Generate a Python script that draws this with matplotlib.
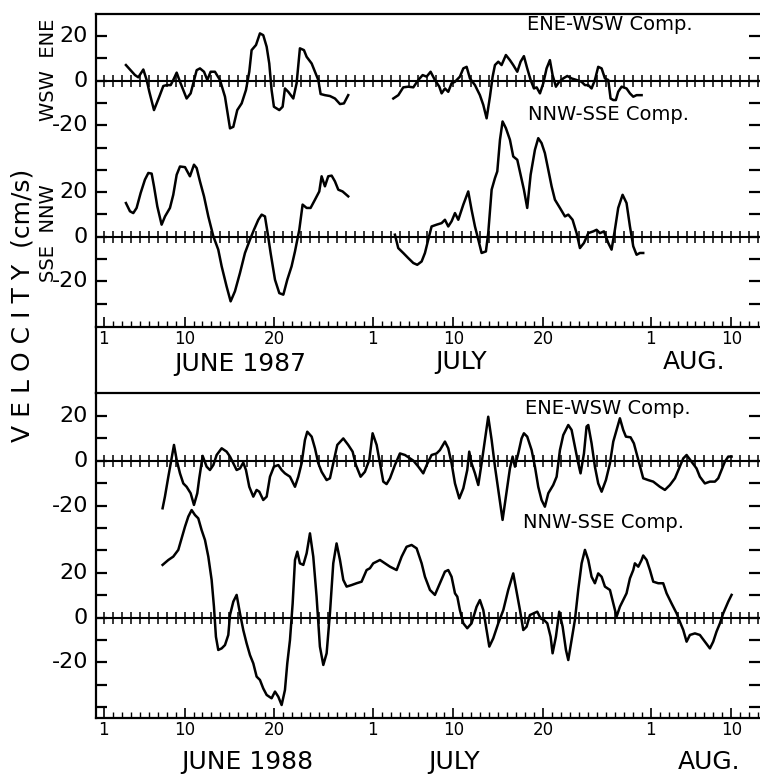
import numpy as np
import matplotlib
matplotlib.use("Agg")
import matplotlib.pyplot as plt
from matplotlib.lines import Line2D

# day number counted from 1 June (1 July = 31, 1 Aug = 62), velocity in cm/s
# ---- 1987 ----
ene87_day_a = [3.46,4.47,4.84,5.40,5.77,6.07,6.59,7.18,7.63,8.00,8.45,8.74,9.12,9.49,10.23,10.68,11.35,11.72,12.17,12.54,
               12.91,13.39,13.95,14.51,15.07,15.44,15.88,16.37,16.85,17.22,17.48,17.97,18.41,18.78,19.16,19.45,19.71,19.97,20.57,20.94,
               21.20,21.57,22.13,22.50,22.87,23.32,23.62,24.18,24.55,24.92,25.18,25.66,26.22,26.78,27.34,27.78,28.26]
ene87_val_a = [7.0,2.5,1.5,5.0,0.3,-5.0,-13.2,-7.2,-2.4,-2.0,-2.0,0.3,3.6,-0.5,-8.0,-5.7,4.7,5.5,4.0,0.3,
               4.0,4.0,0.3,-7.2,-21.4,-20.7,-13.2,-10.2,-4.2,4.0,13.7,16.0,21.2,20.4,15.2,7.7,-4.2,-11.7,-13.2,-11.7,
               -3.5,-5.0,-8.0,-1.2,14.5,13.7,10.7,7.7,4.0,0.3,-6.0,-6.5,-6.9,-8.0,-10.5,-10.2,-6.5]
ene87_day_b = [33.29,33.85,34.40,34.96,35.52,36.08,36.56,37.01,37.45,37.93,38.42,38.68,39.05,39.42,39.79,40.17,40.72,41.10,41.47,41.84,
               42.40,42.95,43.33,43.70,44.07,44.37,44.63,45.00,45.37,45.85,46.30,46.67,47.12,47.49,47.86,48.23,48.61,48.98,49.28,49.65,
               50.02,50.39,50.76,51.06,51.43,51.80,52.25,52.70,53.18,53.74,54.29,54.67,55.04,55.41,55.78,56.15,56.53,56.90,57.27,57.53,
               57.83,58.12,58.38,58.76,59.31,59.69,60.06,60.43,60.99]
ene87_val_b = [-8.0,-6.5,-3.0,-2.7,-3.0,0.3,2.5,1.8,4.0,0.3,-2.7,-5.7,-3.5,-5.0,-1.2,-0.5,1.8,5.5,6.2,1.0,
               -2.0,-6.5,-10.9,-16.9,-7.2,1.8,7.0,8.5,7.0,11.5,9.2,7.0,4.0,8.5,11.0,5.5,0.3,-3.5,-3.0,-5.7,
               -1.2,5.5,9.2,2.5,-2.7,-0.5,1.0,2.1,1.0,0.3,-0.5,-2.0,-2.0,-3.5,0.3,6.2,5.5,1.0,0.3,-8.0,
               -8.7,-8.7,-5.0,-2.7,-3.5,-5.7,-7.2,-6.5,-6.5]
nnw87_day_a = [3.46,3.91,4.28,4.65,5.10,5.58,5.96,6.33,6.59,6.96,7.44,7.82,8.37,8.74,9.12,9.49,10.05,10.60,11.05,11.35,
               11.72,12.17,12.65,13.21,13.76,14.14,14.69,15.14,15.62,16.18,16.74,17.30,17.74,18.23,18.60,18.97,19.27,19.60,20.09,20.57,
               21.02,21.46,21.94,22.32,22.80,23.17,23.62,24.06,24.55,25.03,25.29,25.66,26.03,26.41,26.78,27.15,27.63,28.26]
nnw87_val_a = [15.1,11.4,10.6,12.9,19.6,25.6,28.6,28.3,22.6,13.6,5.4,9.1,12.9,18.8,27.8,31.5,31.2,27.1,32.3,30.8,
               24.8,18.1,9.1,0.2,-5.8,-13.3,-22.3,-29.0,-24.5,-16.3,-7.3,-1.3,3.1,7.6,9.9,9.1,1.6,-7.3,-19.3,-25.3,
               -26.0,-19.3,-13.3,-6.6,3.1,14.4,12.9,12.9,16.6,20.3,27.1,22.6,27.1,27.4,24.8,21.1,20.3,18.1]
nnw87_day_b = [33.47,33.84,34.40,34.96,35.52,35.96,36.45,36.82,37.19,37.56,38.12,38.68,39.05,39.42,39.79,40.17,40.54,41.10,41.65,42.02,
               42.40,42.77,43.14,43.62,43.88,44.26,44.63,44.89,45.19,45.48,45.85,46.30,46.67,47.12,47.49,47.86,48.23,48.61,49.09,49.46,
               49.83,50.20,50.58,50.95,51.32,51.88,52.44,52.81,53.29,53.74,54.11,54.56,55.04,55.60,55.97,56.34,56.79,57.27,57.64,58.01,
               58.38,58.87,59.31,59.69,60.06,60.43,60.80,61.17]
nnw87_val_b = [0.9,-5.1,-7.3,-9.6,-11.8,-12.6,-11.1,-7.3,-1.3,4.6,5.4,6.1,7.6,4.6,6.9,10.6,7.6,14.4,20.3,12.1,
               4.6,-1.3,-7.3,-6.6,1.6,21.1,26.3,29.3,43.5,51.7,48.7,43.5,36.0,34.5,27.8,21.1,12.9,27.8,39.0,44.2,
               42.0,37.5,30.0,22.6,16.6,12.9,9.1,9.9,7.6,1.6,-5.1,-2.8,1.6,2.4,3.1,1.6,2.4,-2.8,-5.8,3.1,
               12.9,18.8,15.1,4.6,-4.3,-8.1,-7.3,-7.3]

# ---- 1988 ----
ene88_day = [7.55,7.81,8.19,8.56,8.82,9.12,9.49,9.86,10.23,10.68,11.05,11.42,11.64,12.02,12.46,12.83,13.21,13.58,14.14,14.69,
             15.07,15.44,15.81,16.18,16.55,16.85,17.22,17.67,18.04,18.34,18.78,19.16,19.53,19.97,20.46,20.83,21.20,21.76,22.32,22.69,
             23.06,23.43,23.69,24.18,24.55,24.92,25.29,25.85,26.22,26.59,27.04,27.71,28.26,28.75,29.12,29.64,30.12,30.61,30.98,31.43,
             31.80,32.17,32.54,32.92,33.47,34.03,34.59,35.15,35.52,36.08,36.63,37.01,37.56,38.12,38.49,39.05,39.42,39.79,40.17,40.65,
             41.10,41.54,41.76,42.02,42.40,42.77,43.14,43.51,43.88,44.26,44.63,45.11,45.48,45.85,46.30,46.60,46.86,47.23,47.60,47.86,
             48.23,48.72,49.09,49.46,49.83,50.20,50.58,51.13,51.51,51.88,52.25,52.81,53.18,53.55,53.92,54.18,54.56,54.85,55.04,55.41,
             55.78,56.15,56.53,57.01,57.46,57.83,58.20,58.57,58.94,59.24,59.76,60.13,60.62,61.17,61.73,62.29,63.03,63.59,64.15,64.71,
             65.26,65.64,66.01,66.57,67.12,67.49,68.05,68.61,69.17,69.54,69.91,70.28,70.66,71.03]
ene88_val = [-21.2,-16.0,-7.1,1.1,7.1,0.4,-5.6,-10.1,-11.6,-14.5,-19.7,-14.5,-7.8,2.2,-2.6,-4.1,-1.9,2.6,5.6,4.1,
             1.9,-1.1,-4.1,-3.4,-0.8,-4.1,-11.6,-16.0,-13.0,-13.8,-17.5,-16.0,-7.1,-2.6,-1.9,-4.1,-5.6,-7.1,-11.6,-7.1,
             -1.1,9.3,13.0,10.8,5.6,-1.1,-4.9,-8.6,-7.8,-1.1,7.1,10.0,7.1,4.1,-1.9,-7.1,-4.9,0.4,12.3,7.1,
             -1.1,-9.3,-10.4,-7.8,-1.9,3.3,2.6,1.1,0.1,-2.6,-5.6,-1.9,2.6,3.3,4.8,8.6,5.6,-1.1,-10.1,-16.8,
             -12.3,-4.1,4.1,-1.1,-5.6,-10.8,-1.1,9.3,19.7,9.3,-2.6,-16.0,-26.4,-16.0,-3.4,1.9,-2.6,3.3,10.0,12.3,
             10.8,4.8,-2.6,-11.6,-17.5,-20.5,-14.5,-10.8,-7.1,4.8,11.5,16.0,13.8,6.3,-1.1,-5.6,3.3,15.3,16.0,7.8,
             -2.6,-10.1,-13.8,-8.6,-1.1,8.6,13.8,19.0,13.8,10.8,10.5,7.8,0.4,-7.8,-8.6,-9.3,-11.6,-13.0,-10.8,-7.8,
             -2.6,1.1,2.6,-0.4,-3.4,-7.1,-10.1,-9.3,-9.3,-7.8,-4.1,-0.4,1.9,1.9]
nnw88_day = [7.55,8.19,8.74,9.30,9.67,10.05,10.42,10.79,11.16,11.53,11.90,12.28,12.65,13.02,13.28,13.50,13.76,14.14,14.51,14.88,
             15.07,15.44,15.81,16.18,16.55,16.92,17.30,17.67,18.04,18.41,18.78,19.16,19.71,20.09,20.46,20.83,21.20,21.46,21.76,22.06,
             22.32,22.58,22.87,23.25,23.62,23.99,24.36,24.73,25.10,25.48,25.85,26.22,26.59,26.96,27.34,27.71,28.08,28.64,29.19,29.75,
             30.31,30.68,31.05,
             31.80,32.36,32.92,33.66,34.22,34.77,35.33,35.89,36.45,36.82,37.38,37.93,38.49,39.05,39.42,39.79,40.17,40.43,40.72,41.10,
             41.54,42.02,42.58,42.95,43.33,43.70,44.00,44.44,45.00,45.56,46.11,46.67,47.04,47.42,47.79,48.16,48.53,48.98,49.35,49.72,
             50.09,50.47,50.84,51.06,51.43,51.80,52.18,52.55,52.81,53.18,53.55,53.92,54.30,54.67,55.04,55.41,55.78,56.15,56.53,56.90,
             57.46,57.83,58.20,58.57,58.94,59.31,59.69,60.06,60.24,60.62,60.99,61.17,61.55,61.92,62.29,62.85,63.40,63.78,64.33,64.89,
             65.26,65.64,66.01,66.38,66.94,67.49,68.05,68.61,68.98,69.35,69.73,70.10,70.66,71.03]
nnw88_val = [23.5,25.7,27.2,30.2,35.4,40.6,45.1,48.0,45.8,44.3,39.1,34.6,27.2,16.8,4.8,-8.6,-14.5,-13.8,-12.3,-7.8,
             1.1,7.1,10.1,1.9,-5.6,-11.5,-16.8,-20.5,-26.4,-27.9,-31.7,-34.6,-36.1,-33.1,-35.4,-39.1,-32.4,-20.5,-10.1,6.3,
             25.7,29.4,24.2,23.5,28.7,37.6,27.2,9.3,-13.0,-21.2,-16.0,1.9,24.2,33.1,25.7,16.8,13.8,14.5,15.3,16.0,
             21.2,22.0,24.2,
             25.7,24.2,22.7,21.2,27.2,31.6,32.4,30.9,24.2,18.2,12.3,10.1,15.3,20.5,21.2,18.2,10.8,9.3,3.3,-2.6,
             -4.8,-2.6,4.8,7.8,3.3,-5.6,-13.0,-9.3,-2.6,3.3,12.3,19.7,11.5,3.3,-5.6,-4.1,1.1,1.9,2.6,-0.4,
             -1.1,-2.6,-8.6,-16.0,-8.6,2.6,-4.1,-14.5,-19.0,-10.1,-1.1,12.3,24.2,30.2,25.7,18.2,15.3,19.7,18.2,13.8,
             12.3,6.3,0.4,4.8,7.8,10.8,17.5,21.2,24.2,22.7,25.7,27.7,25.7,21.2,16.0,15.3,15.3,10.8,6.3,1.9,
             -1.9,-5.6,-10.8,-7.8,-7.1,-7.8,-10.8,-13.8,-10.8,-6.3,-2.6,1.9,7.1,10.1]

xtick_days = [1, 10, 20, 31, 40, 50, 62, 71]
xtick_labels = ['1', '10', '20', '1', '10', '20', '1', '10']
ytick_pos = [20, 0, -20, -50, -70, -90]
ytick_labels = ['20', '0', '-20', '20', '0', '-20']
NNW_OFFSET = -70

W, H = 760, 778
fig = plt.figure(figsize=(W / 100, H / 100), dpi=100)
fig.patch.set_facecolor('white')


def px(x, y):
    return x / W, 1 - y / H


def setup(ax, ylo, yhi, ymin_tick):
    ax.set_xlim(0.12, 74.2)
    ax.set_ylim(ylo, yhi)
    for s in ['top', 'left', 'bottom']:
        ax.spines[s].set_linewidth(1.6)
    ax.spines['right'].set_visible(False)
    ax.set_yticks(np.arange(20, ymin_tick - 1, -10))
    ax.set_yticklabels([''] * len(ax.get_yticks()))
    ax.set_xticks(xtick_days)
    ax.set_xticklabels(xtick_labels, fontsize=12)
    ax.set_xticks(np.arange(1, 75), minor=True)
    ax.tick_params(axis='x', which='major', direction='in', length=7, width=1.2, pad=2)
    ax.tick_params(axis='x', which='minor', direction='in', length=4, width=1.0)
    ax.tick_params(axis='y', direction='in', length=8, width=1.6, left=True, right=True, pad=3)
    # zero lines with daily cross ticks
    days = np.arange(1, 75)
    for z in [0, NNW_OFFSET]:
        ax.axhline(z, color='k', lw=1.5)
        ax.plot(days, np.full(len(days), z), ls='none', marker='|', ms=8, mew=1.1, color='k')
    for v, lab in zip(ytick_pos, ytick_labels):
        ax.text(-0.012, v, lab, transform=ax.get_yaxis_transform(), ha='right', va='center', fontsize=16)


ax1 = fig.add_axes([96 / W, 1 - 327 / H, 664 / W, 313 / H])
setup(ax1, -110.5, 29.9, -100)
ax2 = fig.add_axes([96 / W, 1 - 718 / H, 664 / W, 325 / H])
setup(ax2, -114.9, 30.3, -110)

lw = 1.8
ax1.plot(ene87_day_a, ene87_val_a, color='k', lw=lw)
ax1.plot(ene87_day_b, ene87_val_b, color='k', lw=lw)
ax1.plot(nnw87_day_a, np.array(nnw87_val_a) + NNW_OFFSET, color='k', lw=lw)
ax1.plot(nnw87_day_b, np.array(nnw87_val_b) + NNW_OFFSET, color='k', lw=lw)
ax2.plot(ene88_day, ene88_val, color='k', lw=lw)
ax2.plot(nnw88_day, np.array(nnw88_val) + NNW_OFFSET, color='k', lw=lw)

# left border running through the gap between panels
fig.add_artist(Line2D([96 / W, 96 / W], [1 - 327 / H, 1 - 393 / H], color='k', lw=1.6))

# component labels
for x, y, t in [(527, 25, 'ENE-WSW Comp.'), (528, 115, 'NNW-SSE Comp.'),
                (525, 408, 'ENE-WSW Comp.'), (523, 522, 'NNW-SSE Comp.')]:
    fig.text(*px(x, y), t, ha='left', va='center', fontsize=14)

# month labels
for x, y, t in [(240, 364, 'JUNE 1987'), (461, 362, 'JULY'), (694, 362, 'AUG.'),
                (247, 762, 'JUNE 1988'), (454, 762, 'JULY'), (709, 762, 'AUG.')]:
    fig.text(*px(x, y), t, ha='center', va='center', fontsize=18)

fig.text(*px(48, 70), 'WSW  ENE', rotation=90, ha='center', va='center', fontsize=14)
fig.text(*px(48, 233), 'SSE  NNW', rotation=90, ha='center', va='center', fontsize=14)
fig.text(*px(23, 305), 'V E L O C I T Y  (cm/s)', rotation=90, ha='center', va='center', fontsize=18)

fig.savefig('out.png', dpi=100, facecolor='white')
